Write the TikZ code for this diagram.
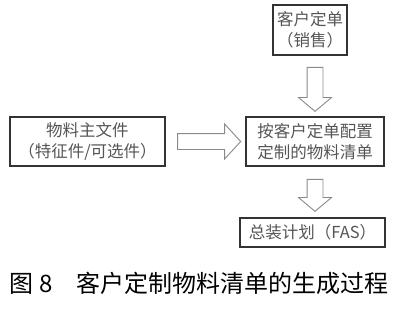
\documentclass[tikz,border=0pt]{standalone}
\usepackage{fontspec}
\newfontfamily\cjk{Noto Sans CJK SC}
\usetikzlibrary{arrows.meta,positioning,calc,shapes.arrows}
\definecolor{boxline}{HTML}{333333}
\definecolor{boxtext}{HTML}{555555}
\definecolor{arrline}{HTML}{8A8A8A}
\tikzset{
  stagebox/.style={draw=boxline,line width=2pt,align=center,inner sep=0pt,
    text=boxtext,font=\cjk\fontsize{16.5}{20.5}\selectfont},
  hollowarr/.style={draw=arrline,line width=0.9pt,fill=white,single arrow,
    inner sep=0pt,single arrow head extend=8.5pt,single arrow tip angle=100}
}
\newcommand{\shaft}{\rule{0pt}{15pt}}

\begin{document}
\begin{tikzpicture}[x=1pt,y=1pt]
\useasboundingbox (0,0) rectangle (399,-311);
\node[stagebox,minimum width=74pt,minimum height=50pt] (order) at (310,-30) {客户定单\\（销售）};
\node[stagebox,minimum width=155pt,minimum height=49pt] (master) at (87.5,-141.5) {物料主文件\\（特征件/可选件）};
\node[stagebox,minimum width=138pt,minimum height=49pt] (config) at (315,-141.5) {按客户定单配置\\定制的物料清单};
\node[stagebox,minimum width=145pt,minimum height=29pt] (fas) at (312.5,-232.5) {总装计划（FAS）};
\node[hollowarr,minimum height=44pt,rotate=-90] (a1) at ($(order.south-|config.north)!0.5!(config.north)$) {\shaft};
\node[hollowarr,minimum height=63pt,single arrow head extend=9.5pt,single arrow tip angle=95] (a2) at ($(master.east)!0.5!(config.west)$) {\shaft};
\node[hollowarr,minimum height=32pt,rotate=-90] (a3) at ($(config.south)!0.5!(config.south|-fas.north)$) {\shaft};
\node[font=\cjk\fontsize{24}{28}\selectfont] (cap) at (199,-283) {图 8　客户定制物料清单的生成过程};
\end{tikzpicture}
\end{document}
